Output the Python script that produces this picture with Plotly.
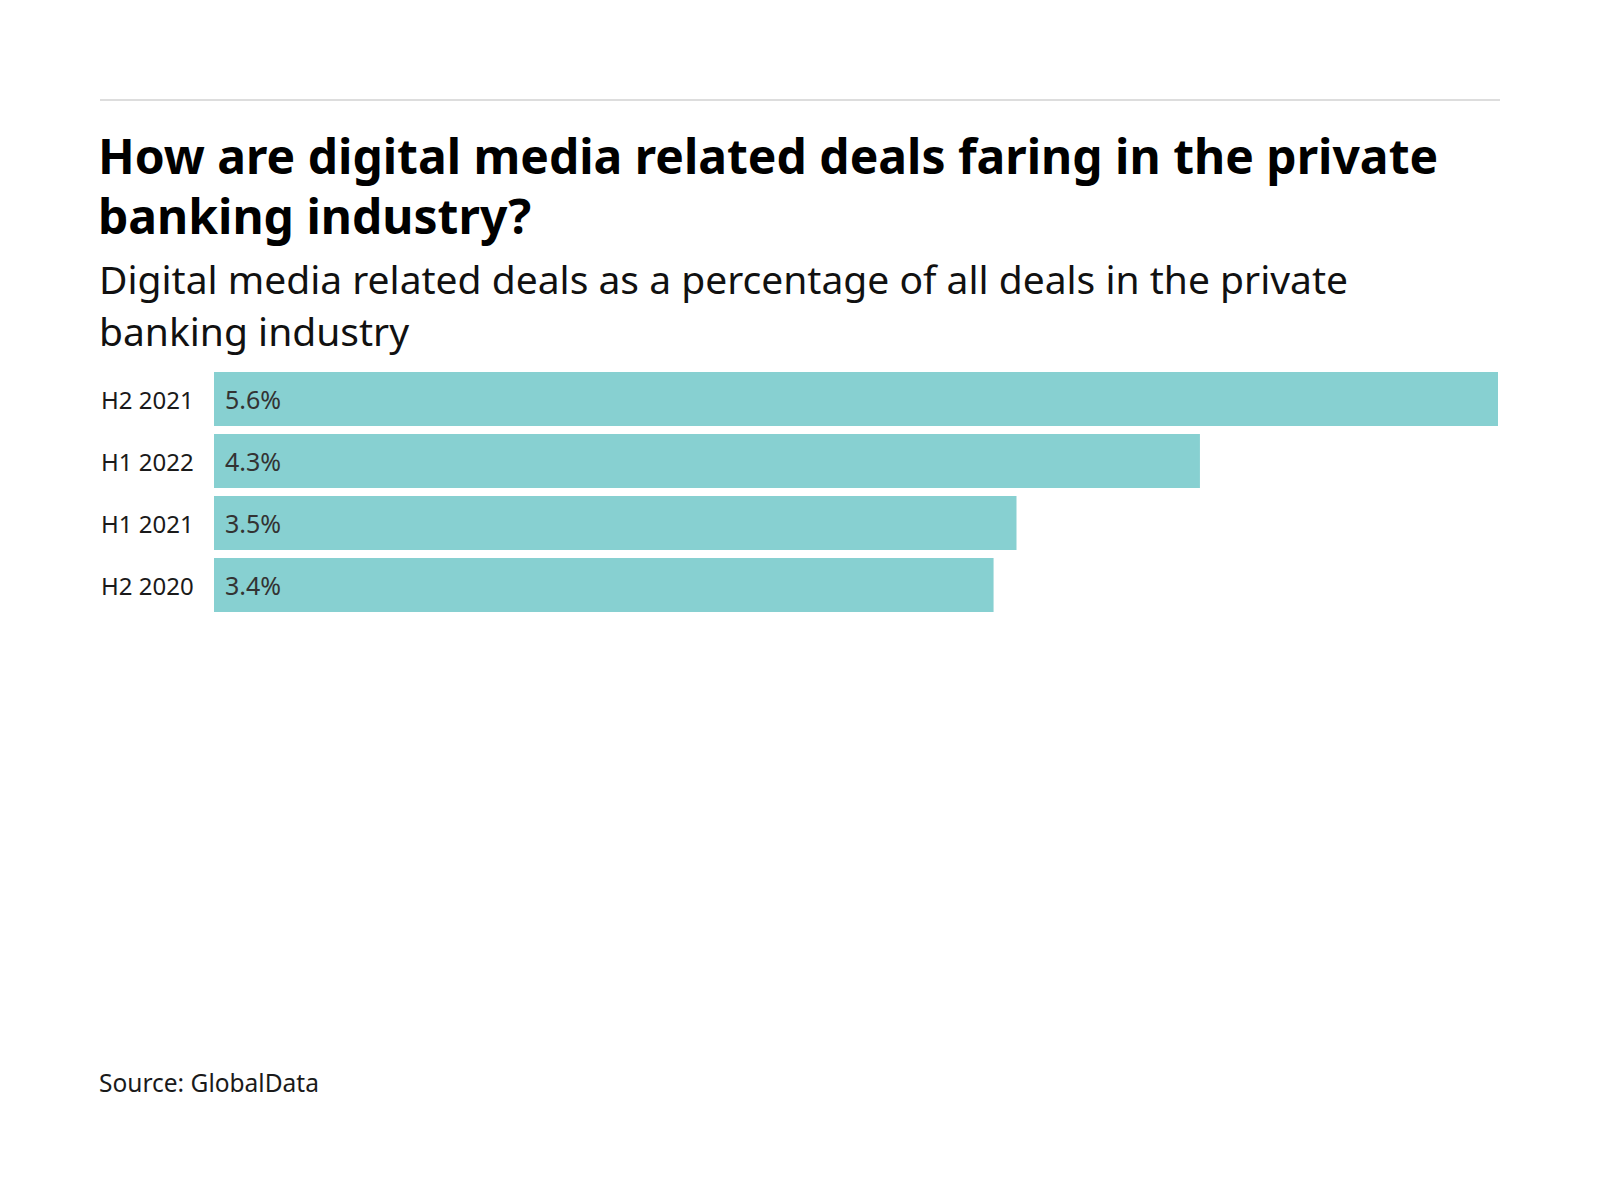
import plotly.graph_objects as go

categories = ["H2 2021", "H1 2022", "H1 2021", "H2 2020"]
values = [5.6, 4.3, 3.5, 3.4]
value_labels = ["5.6%", "4.3%", "3.5%", "3.4%"]

title_lines = ["How are digital media related deals faring in the private",
               "banking industry?"]
subtitle_lines = ["Digital media related deals as a percentage of all deals in the private",
                  "banking industry"]
source_text = "Source: GlobalData"

W, H = 1600, 1200
L, R = 206, 1490
T, B = 360, 608
FONT = "Noto Sans"

def px_x(px):
    return (px - L) / (R - L)

def px_y(py):
    return (B - py) / (B - T)

fig = go.Figure()
fig.add_trace(go.Bar(
    x=values, y=categories, orientation="h",
    marker=dict(color="#87d0d1", line=dict(width=0)),
    hoverinfo="skip",
))

annotations = []
for cat, lab in zip(categories, value_labels):
    annotations.append(dict(x=0, y=cat, xref="x", yref="y", text=lab,
                            xanchor="left", yanchor="middle", xshift=9,
                            showarrow=False,
                            font=dict(family=FONT, size=25, color="#333333")))
    annotations.append(dict(x=px_x(91), y=cat, xref="paper", yref="y", text=cat,
                            xanchor="left", yanchor="middle",
                            showarrow=False,
                            font=dict(family=FONT, size=24, color="#1a1a1a")))

for line, yc in zip(title_lines, [147, 207]):
    annotations.append(dict(x=px_x(88), y=px_y(yc), xref="paper", yref="paper",
                            text="<b>" + line + "</b>", xanchor="left", yanchor="middle",
                            showarrow=False,
                            font=dict(family=FONT, size=48, color="#000000")))
for line, yc in zip(subtitle_lines, [270, 322]):
    annotations.append(dict(x=px_x(89), y=px_y(yc), xref="paper", yref="paper",
                            text=line, xanchor="left", yanchor="middle",
                            showarrow=False,
                            font=dict(family=FONT, size=39, color="#111111")))
annotations.append(dict(x=px_x(89), y=px_y(1074), xref="paper", yref="paper",
                        text=source_text, xanchor="left", yanchor="middle",
                        showarrow=False,
                        font=dict(family=FONT, size=24.5, color="#1a1a1a")))

fig.update_layout(
    width=W, height=H, autosize=False,
    margin=dict(l=L, r=W - R, t=T, b=H - B, pad=0),
    paper_bgcolor="white", plot_bgcolor="white",
    showlegend=False,
    bargap=8 / 62,
    xaxis=dict(range=[0, max(values)], visible=False, fixedrange=True),
    yaxis=dict(categoryorder="array", categoryarray=categories, autorange="reversed",
               showticklabels=False, showgrid=False, zeroline=False, showline=False,
               ticks="", fixedrange=True),
    annotations=annotations,
    shapes=[dict(type="line", xref="paper", yref="paper",
                 x0=px_x(92), x1=px_x(1492), y0=px_y(92), y1=px_y(92),
                 line=dict(color="#dddddd", width=2))],
)

fig.write_html("out.html")
